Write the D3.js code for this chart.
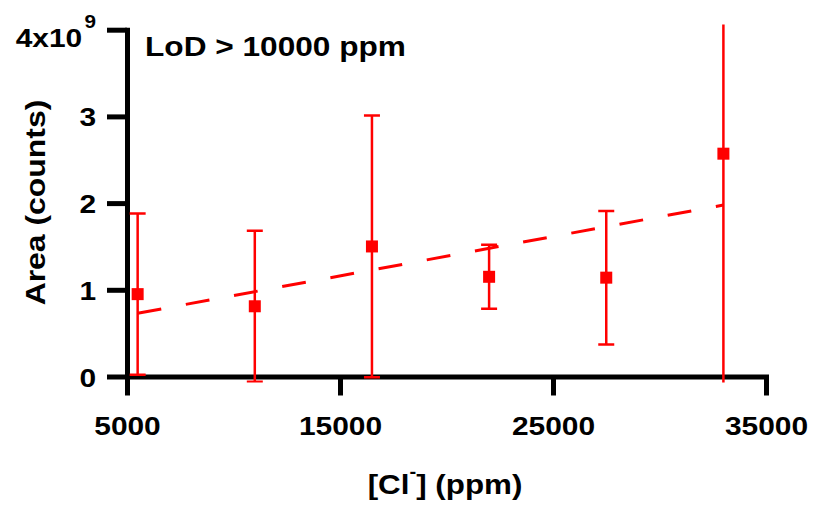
<!DOCTYPE html>
<html>
<head>
<meta charset="utf-8">
<script src="https://cdn.jsdelivr.net/npm/d3@7"></script>
<style>
  html, body { margin: 0; padding: 0; background: #fff; }
  svg { display: block; }
  text { font-family: "Liberation Sans", Arial, sans-serif; font-weight: bold; fill: #000; }
</style>
</head>
<body>
<svg id="chart" width="817" height="511"></svg>
<script>
// Valores
const concentrations = [5500, 11000, 16500, 22000, 27500, 33000];   // [Cl-] (ppm)
const areaMeans = [0.95, 0.81, 1.50, 1.15, 1.14, 2.57];              // x10^9 counts
const areaSDs = [0.93, 0.87, 1.51, 0.37, 0.77, 2.75];

const xTicks = [5000, 15000, 25000, 35000];
const yTicks = [0, 1, 2, 3, 4];
const yTickLabels = ['0', '1', '2', '3', '4x10'];

const RED = '#ff0000';
const SX = 1.15; // la fuente original es algo más ancha que Arial

const svg = d3.select('#chart');

const x = d3.scaleLinear().domain([5000, 35000]).range([127, 766]);
const y = d3.scaleLinear().domain([0, 4]).range([376.5, 29.7]);

// Ejes
const yAxis = svg.append('g')
    .attr('transform', 'translate(127,0)')
    .call(d3.axisLeft(y).tickValues(yTicks).tickSize(20).tickSizeOuter(0).tickFormat((d, i) => yTickLabels[i]));

const xAxis = svg.append('g')
    .attr('transform', `translate(0,${y(0)})`)
    .call(d3.axisBottom(x).tickValues(xTicks).tickSize(19).tickSizeOuter(0).tickFormat(d3.format('d')));

[xAxis, yAxis].forEach(g => {
    g.select('.domain').attr('stroke', '#000').attr('stroke-width', 5).attr('stroke-linecap', 'square');
    g.selectAll('.tick line').attr('stroke', '#000').attr('stroke-width', 5);
});

xAxis.selectAll('.tick text')
    .attr('y', null).attr('dy', null)
    .attr('transform', `translate(0,58.5) scale(${SX},1)`)
    .attr('font-size', 26)
    .attr('text-anchor', 'middle');

yAxis.selectAll('.tick text')
    .attr('x', null).attr('dy', null)
    .attr('transform', (d, i) => `translate(-31,${i === 4 ? 17 : 9.5}) scale(${SX},1)`)
    .attr('font-size', 26)
    .attr('text-anchor', 'end');

// exponente del 4x10^9
yAxis.selectAll('.tick text')
    .filter(d => d === 4)
    .append('tspan')
    .attr('font-size', 18)
    .attr('dx', 2)
    .attr('dy', -19)
    .text('9');

// Títulos
svg.append('text')
    .attr('transform', `translate(45,202.5) rotate(-90) scale(1.14,1)`)
    .attr('text-anchor', 'middle')
    .attr('font-size', 28)
    .text('Area (counts)');

const xTitle = svg.append('text')
    .attr('transform', `translate(445,494) scale(1.12,1)`)
    .attr('text-anchor', 'middle')
    .attr('font-size', 28);
xTitle.append('tspan').text('[Cl');
xTitle.append('tspan').attr('font-size', 18).attr('dy', -16).text('-');
xTitle.append('tspan').attr('dy', 16).text('] (ppm)');

svg.append('text')
    .attr('transform', `translate(145,56) scale(1.13,1)`)
    .attr('font-size', 28)
    .text('LoD > 10000 ppm');

// Recta de regresión (mínimos cuadrados sobre los puntos)
const mx = d3.mean(concentrations), my = d3.mean(areaMeans);
const slope = d3.sum(concentrations, (c, i) => (c - mx) * (areaMeans[i] - my)) /
    d3.sum(concentrations, c => (c - mx) * (c - mx));
const intercept = my - slope * mx;
const fitX = d3.extent(concentrations);

svg.append('path')
    .attr('d', d3.line().x(d => x(d)).y(d => y(intercept + slope * d))(fitX))
    .attr('fill', 'none')
    .attr('stroke', RED)
    .attr('stroke-width', 3)
    .attr('stroke-dasharray', '24,25');

// Barras de error (recortadas al área del gráfico)
svg.append('clipPath').attr('id', 'plot-clip')
    .append('rect')
    .attr('x', 0).attr('width', 817)
    .attr('y', y(4.06)).attr('height', y(-0.07) - y(4.06));

const bars = svg.append('g').attr('clip-path', 'url(#plot-clip)')
    .attr('stroke', RED).attr('stroke-width', 2.5);

concentrations.forEach((c, i) => {
    const cx = x(c);
    const top = y(areaMeans[i] + areaSDs[i]);
    const bot = y(areaMeans[i] - areaSDs[i]);
    bars.append('line').attr('x1', cx).attr('x2', cx).attr('y1', top).attr('y2', bot);
    bars.append('line').attr('x1', cx - 8).attr('x2', cx + 8).attr('y1', top).attr('y2', top);
    bars.append('line').attr('x1', cx - 8).attr('x2', cx + 8).attr('y1', bot).attr('y2', bot);
});

// Marcadores
svg.append('g').selectAll('rect')
    .data(concentrations)
    .enter()
    .append('rect')
    .attr('x', d => x(d) - 6)
    .attr('y', (d, i) => y(areaMeans[i]) - 6)
    .attr('width', 12)
    .attr('height', 12)
    .attr('fill', RED);
</script>
</body>
</html>
